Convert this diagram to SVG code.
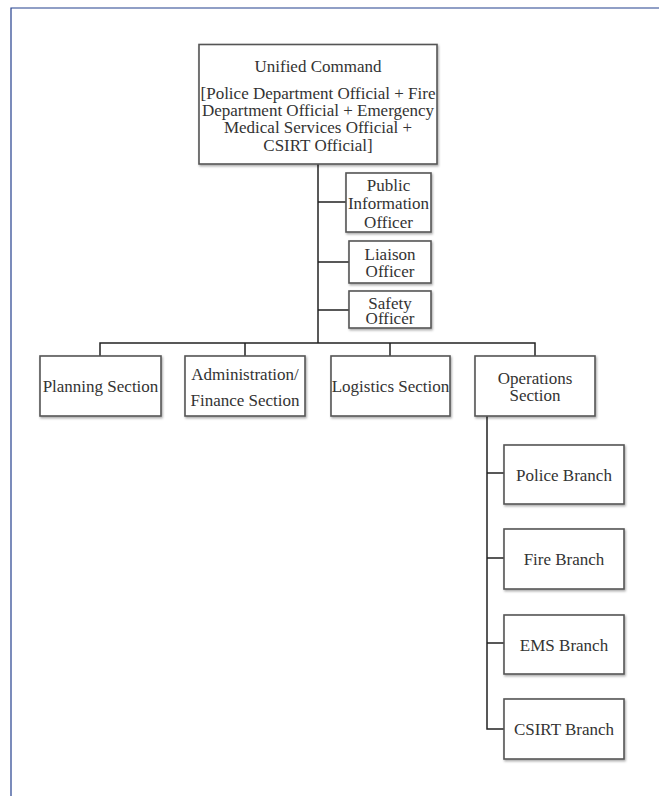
<svg xmlns="http://www.w3.org/2000/svg" width="659" height="796" viewBox="0 0 659 796">
<defs>
<filter id="sh" x="-10%" y="-10%" width="120%" height="130%">
<feDropShadow dx="1" dy="1.5" stdDeviation="0.8" flood-color="#000" flood-opacity="0.35"/>
</filter>
</defs>
<style>
.box{fill:#fff;stroke:#555;stroke-width:1.6;filter:url(#sh)}
.t{font-family:"Liberation Serif","Times New Roman",serif;font-size:17px;fill:#333;text-anchor:middle}
.c{stroke:#222;stroke-width:1.5;fill:none}
</style>
<rect width="659" height="796" fill="#fff"/>
<path d="M11,796 V8 H659" fill="none" stroke="#23408e" stroke-width="1.2"/>
<g id="connectors">
<path class="c" d="M318,164 V343" stroke-width="2"/>
<path class="c" d="M318,202 H346 M318,262 H349 M318,310 H349"/>
<path class="c" d="M100,356 V343 H535 V356 M245,343 V356 M390,343 V356"/>
<path class="c" d="M487,416 V729 H504 M487,473 H504 M487,558 H504 M487,643 H504"/>
</g>
<g id="unified-command">
<rect class="box" x="199" y="44.5" width="238" height="119.5"/>
<text class="t" x="318" y="72">Unified Command</text>
<text class="t" x="318" y="98.5">[Police Department Official + Fire</text>
<text class="t" x="318" y="115.5">Department Official + Emergency</text>
<text class="t" x="318" y="133">Medical Services Official +</text>
<text class="t" x="318" y="151">CSIRT Official]</text>
</g>
<g id="pio">
<rect class="box" x="346" y="173" width="85" height="59"/>
<text class="t" x="388.5" y="191">Public</text>
<text class="t" x="388.5" y="209">Information</text>
<text class="t" x="388.5" y="227.5">Officer</text>
</g>
<g id="liaison">
<rect class="box" x="349" y="241" width="82" height="42"/>
<text class="t" x="390" y="260">Liaison</text>
<text class="t" x="390" y="276.5">Officer</text>
</g>
<g id="safety">
<rect class="box" x="349" y="291" width="82" height="37"/>
<text class="t" x="390" y="308.5">Safety</text>
<text class="t" x="390" y="324">Officer</text>
</g>
<g id="planning">
<rect class="box" x="40" y="356" width="121" height="60"/>
<text class="t" x="100.5" y="392">Planning Section</text>
</g>
<g id="admin">
<rect class="box" x="185" y="356" width="120" height="60"/>
<text class="t" x="245" y="380">Administration/</text>
<text class="t" x="245" y="405.5">Finance Section</text>
</g>
<g id="logistics">
<rect class="box" x="331" y="356" width="119" height="60"/>
<text class="t" x="390.5" y="392">Logistics Section</text>
</g>
<g id="operations">
<rect class="box" x="475" y="356" width="120" height="60"/>
<text class="t" x="535" y="384">Operations</text>
<text class="t" x="535" y="401">Section</text>
</g>
<g id="police">
<rect class="box" x="504" y="445" width="120" height="59"/>
<text class="t" x="564" y="481">Police Branch</text>
</g>
<g id="fire">
<rect class="box" x="504" y="529" width="120" height="60"/>
<text class="t" x="564" y="565">Fire Branch</text>
</g>
<g id="ems">
<rect class="box" x="504" y="615" width="120" height="59"/>
<text class="t" x="564" y="651">EMS Branch</text>
</g>
<g id="csirt">
<rect class="box" x="504" y="699" width="120" height="60"/>
<text class="t" x="564" y="735">CSIRT Branch</text>
</g>
</svg>
